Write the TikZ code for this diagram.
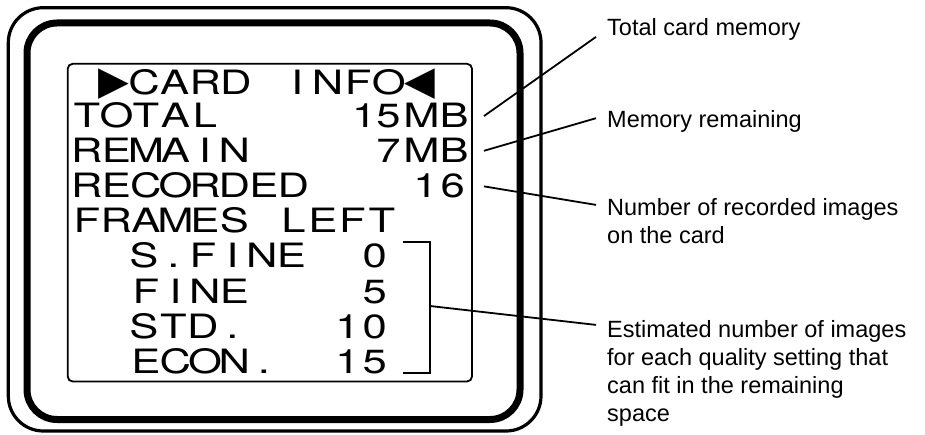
\documentclass[tikz,border=0pt]{standalone}
\usepackage{fontspec}
\setmainfont{Liberation Sans}
\newfontfamily\lcdfamily[FakeStretch=1.3]{TeX Gyre Heros}
\newfontfamily\symfamily{DejaVu Sans}

% one character per fixed cell, like the LCD of the camera
\newlength\lcdcell
\let\lcdstop\relax
\def\lcdloop#1{\ifx#1\lcdstop\else\makebox[\lcdcell][c]{#1}\expandafter\lcdloop\fi}
\newcommand\lcdrow[2][29.5pt]{\setlength\lcdcell{#1}\lcdloop#2\lcdstop}
\newcommand\lcdsym[1]{\makebox[30.6pt][c]{\symfamily\fontsize{40}{40}\selectfont #1}}

\begin{document}
\begin{tikzpicture}[x=1pt, y=-1pt,
  lcd/.style={font=\lcdfamily\fontsize{33.5}{33.5}\selectfont, inner sep=0pt},
  note/.style={font=\fontsize{23.5}{28}\selectfont, align=left, anchor=north west, inner xsep=11pt, inner ysep=0pt},
  leader/.style={line width=1.8pt}]
\useasboundingbox (0,0) rectangle (925,435);

% camera back and screen
\draw[line width=3.2pt, rounded corners=35pt] (8.3,7.7) rectangle (541,431);
\draw[line width=7pt, rounded corners=30pt] (27,23) rectangle (520,419.5);
\draw[line width=1.8pt, rounded corners=5pt] (67.7,63.8) rectangle (472,381.5);

% screen text
\node[lcd, anchor=base west] (title) at (98,95) {\lcdsym{▶}\lcdrow[30.6pt]{CARD~INFO}\lcdsym{◀}};
\node[lcd, anchor=base west] (total) at (72,128) {\lcdrow{TOTAL}};
\node[lcd, anchor=base east] (totalval) at (469,128) {15\kern3pt MB};
\node[lcd, anchor=base west] (remain) at (72,163) {\lcdrow{REMAIN}};
\node[lcd, anchor=base east] (remainval) at (469,163) {7\kern3pt MB};
\node[lcd, anchor=base west] (recorded) at (72,198) {\lcdrow{RECORDED}};
\node[lcd, anchor=base east] (recordedval) at (465,198) {1\kern3pt 6};
\node[lcd, anchor=base west] (frames) at (72,233) {\lcdrow{FRAMES~LEFT}};
\node[lcd, anchor=base west] (sfine) at (129,268) {\lcdrow{S.FINE}};
\node[lcd, anchor=base east] (sfineval) at (387,268) {0};
\node[lcd, anchor=base west] (fine) at (131,303) {\lcdrow{FINE}};
\node[lcd, anchor=base east] (fineval) at (387,303) {5};
\node[lcd, anchor=base west] (std) at (129,338) {\lcdrow{STD.}};
\node[lcd, anchor=base east] (stdval) at (387,338) {1\kern3pt 0};
\node[lcd, anchor=base west] (econ) at (131,373) {\lcdrow{ECON.}};
\node[lcd, anchor=base east] (econval) at (387,373) {1\kern3pt 5};

% bracket round the frames left values
\coordinate (brtop) at (403,242);
\coordinate (brbot) at (403,373);
\coordinate (brmid) at (430,306);
\draw[leader] (brtop) -- ++(27,0) |- (brbot);

% callouts
\node[note] (lbltotal) at (596,17.9) {Total card memory};
\node[note] (lblremain) at (596,110.2) {Memory remaining};
\node[note] (lblcount) at (596,197.9) {Number of recorded images\\on the card};
\node[note] (lblestim) at (596,319.9) {Estimated number of images\\for each quality setting that\\can fit in the remaining\\space};

\draw[leader] ([xshift=15pt]totalval.east) -- ([yshift=-19pt]lbltotal.north west);
\draw[leader] ([xshift=15pt]remainval.east) -- ([yshift=-8pt]lblremain.north west);
\draw[leader] ([xshift=19pt]recordedval.east) -- ([yshift=-7pt]lblcount.north west);
\draw[leader] (brmid) -- ([yshift=-5pt]lblestim.north west);
\end{tikzpicture}
\end{document}
